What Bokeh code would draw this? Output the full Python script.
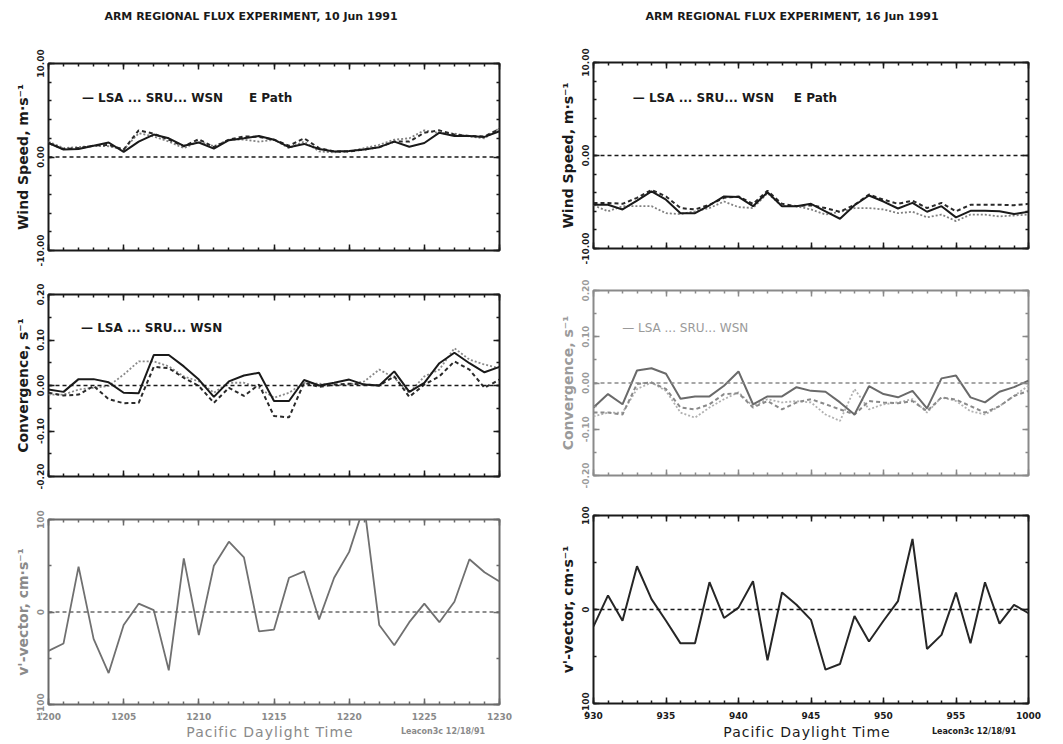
from bokeh.plotting import figure
from bokeh.models import (Range1d, FixedTicker, LinearAxis, Label, Span, NumeralTickFormatter, Div)
from bokeh.layouts import row, column
from bokeh.embed import file_html
from bokeh.resources import INLINE

# ---------------- data ----------------
left_times = ["1200", "1201", "1202", "1203", "1204", "1205", "1206", "1207", "1208", "1209",
              "1210", "1211", "1212", "1213", "1214", "1215", "1216", "1217", "1218", "1219",
              "1220", "1221", "1222", "1223", "1224", "1225", "1226", "1227", "1228", "1229", "1230"]
right_times = ["930", "931", "932", "933", "934", "935", "936", "937", "938", "939",
               "940", "941", "942", "943", "944", "945", "946", "947", "948", "949",
               "950", "951", "952", "953", "954", "955", "956", "957", "958", "959", "1000"]

# 10 Jun 1991 wind speed (m/s)
lsa_wind_10 = [1.5, 0.8, 0.85, 1.2, 1.55, 0.55, 1.65, 2.4, 2.0, 1.2, 1.55, 0.9, 1.8, 2.0, 2.25, 1.85,
               1.05, 1.4, 0.85, 0.6, 0.65, 0.8, 1.05, 1.65, 1.1, 1.5, 2.6, 2.25, 2.25, 2.15, 2.75]
sru_wind_10 = [1.5, 0.85, 0.95, 1.2, 1.3, 0.8, 2.85, 2.5, 1.85, 1.15, 1.9, 1.05, 1.85, 2.2, 2.15, 1.85,
               1.2, 2.0, 0.95, 0.6, 0.6, 0.8, 1.05, 1.65, 1.65, 2.6, 2.85, 2.4, 2.25, 2.2, 3.0]
wsn_wind_10 = [1.65, 0.95, 1.05, 1.2, 1.15, 0.8, 2.55, 2.2, 1.65, 0.95, 1.65, 1.15, 1.85, 1.85, 1.65, 1.85,
               0.95, 1.65, 0.6, 0.5, 0.6, 0.95, 1.3, 1.85, 2.0, 2.85, 2.55, 2.5, 2.2, 2.0, 3.1]

# 16 Jun 1991 wind speed (m/s)
lsa_wind_16 = [-5.3, -5.3, -5.8, -4.85, -3.85, -4.75, -6.2, -6.2, -5.35, -4.4, -4.45, -5.45, -3.95, -5.45,
               -5.45, -5.2, -6.0, -6.8, -5.35, -4.3, -4.95, -5.7, -5.1, -6.05, -5.45, -6.65, -5.95, -5.95,
               -6.0, -6.3, -6.05]
sru_wind_16 = [-5.1, -5.1, -5.2, -4.55, -3.7, -4.4, -5.65, -5.8, -5.3, -4.55, -4.4, -5.2, -3.8, -5.2,
               -5.45, -5.35, -5.65, -6.05, -5.3, -4.2, -4.75, -5.2, -4.85, -5.65, -5.1, -6.0, -5.3, -5.3,
               -5.3, -5.35, -5.2]
wsn_wind_16 = [-5.35, -6.0, -5.45, -5.45, -5.45, -6.2, -6.3, -6.0, -5.65, -4.95, -5.55, -5.65, -4.05, -5.45,
               -5.45, -5.8, -6.35, -6.05, -5.65, -5.65, -5.8, -6.2, -6.05, -6.65, -6.35, -7.05, -6.35, -6.35,
               -6.55, -6.45, -6.35]

# 10 Jun 1991 convergence (1/s)
lsa_conv_10 = [-0.009, -0.014, 0.014, 0.014, 0.007, -0.016, -0.017, 0.067, 0.067, 0.042, 0.013, -0.025,
               0.009, 0.022, 0.028, -0.034, -0.034, 0.012, 0.0, 0.006, 0.013, 0.002, 0.0, 0.031, -0.014,
               0.006, 0.049, 0.072, 0.049, 0.029, 0.041]
sru_conv_10 = [-0.016, -0.022, -0.02, -0.001, -0.03, -0.039, -0.038, 0.041, 0.038, 0.017, -0.001, -0.038,
               -0.005, -0.023, 0.002, -0.067, -0.07, 0.006, -0.003, 0.002, 0.004, 0.002, 0.0, 0.02, -0.025,
               0.002, 0.02, 0.053, 0.035, -0.005, 0.013]
wsn_conv_10 = [-0.02, -0.02, -0.009, -0.005, -0.001, 0.024, 0.053, 0.053, 0.042, 0.02, 0.009, -0.016,
               0.006, 0.006, -0.005, -0.027, -0.016, 0.006, 0.004, 0.0, 0.002, 0.009, 0.035, 0.017, -0.016,
               0.02, 0.035, 0.082, 0.057, 0.046, 0.038]

# 16 Jun 1991 convergence (1/s)
lsa_conv_16 = [-0.053, -0.024, -0.046, 0.027, 0.032, 0.02, -0.034, -0.029, -0.029, -0.006, 0.025, -0.046,
               -0.029, -0.029, -0.009, -0.017, -0.019, -0.042, -0.068, -0.007, -0.024, -0.031, -0.017,
               -0.055, 0.01, 0.016, -0.031, -0.042, -0.019, -0.009, 0.005]
sru_conv_16 = [-0.064, -0.064, -0.068, -0.002, 0.001, -0.013, -0.053, -0.057, -0.046, -0.024, -0.022,
               -0.053, -0.039, -0.057, -0.042, -0.035, -0.046, -0.057, -0.068, -0.039, -0.042, -0.044,
               -0.039, -0.061, -0.031, -0.036, -0.05, -0.064, -0.05, -0.028, -0.017]
wsn_conv_16 = [-0.072, -0.064, -0.064, -0.013, 0.001, -0.017, -0.064, -0.075, -0.053, -0.035, -0.02,
               -0.05, -0.035, -0.042, -0.039, -0.042, -0.068, -0.082, -0.013, -0.057, -0.046, -0.042,
               -0.035, -0.064, -0.031, -0.039, -0.061, -0.068, -0.05, -0.028, -0.006]

# v'-vector (cm/s)
vvec_10 = [-42, -34, 49, -29, -66, -14, 9, 2, -63, 58, -25, 50, 76, 59, -21, -19, 37, 44, -8, 37, 65,
           115, -14, -36, -11, 9, -11, 11, 57, 43, 33]
vvec_16 = [-18, 15, -12, 46, 11, -12, -36, -36, 29, -9, 2, 30, -54, 18, 5, -11, -64, -58, -7, -34, -12,
           9, 75, -42, -27, 18, -36, 29, -15, 5, -4]

titles = ["ARM REGIONAL FLUX EXPERIMENT, 10 Jun 1991", "ARM REGIONAL FLUX EXPERIMENT, 16 Jun 1991"]
legend_text = "\u2014 LSA ... SRU... WSN"
path_text = "E Path"
xlabel_text = "Pacific Daylight Time"
stamp_text = "Leacon3c 12/18/91"

FONT = "DejaVu Sans"


class Geo:
    def __init__(self, ox, oy, width, height, bl, br, bt, bb, yr, nx):
        self.ox, self.oy, self.width, self.height = ox, oy, width, height
        self.bl, self.br, self.bt, self.bb = bl, br, bt, bb
        self.yr = yr
        self.nx = nx
        self.fl = ox + bl
        self.ft = oy + bt
        self.fw = width - bl - br
        self.fh = height - bt - bb

    def dx(self, ix):
        return (ix - self.fl) / self.fw * (self.nx - 1)

    def dy(self, iy):
        y0, y1 = self.yr
        return y1 - (iy - self.ft) / self.fh * (y1 - y0)


def tick_style(ax, ink, long_minor=False):
    ax.axis_line_color = None
    ax.major_tick_in = 6
    ax.major_tick_out = 0
    ax.minor_tick_in = 6 if long_minor else 3
    ax.minor_tick_out = 0
    ax.major_tick_line_color = ink
    ax.minor_tick_line_color = ink
    ax.major_tick_line_width = 1.5
    ax.minor_tick_line_width = 1.5


def bare_axes(p, where, major, minor, ink):
    # label-free axes: short minor ticks and longer "major" ticks, both drawn as minor ticks
    a1 = LinearAxis(ticker=FixedTicker(ticks=[], minor_ticks=minor), major_label_standoff=0)
    tick_style(a1, ink)
    a2 = LinearAxis(ticker=FixedTicker(ticks=[], minor_ticks=major), major_label_standoff=0)
    tick_style(a2, ink, long_minor=True)
    p.add_layout(a1, where)
    p.add_layout(a2, where)


def panel(g, times, yticks, yminor, yfmt, ylabel, show_x, ink, txt):
    p = figure(width=g.width, height=g.height, x_range=Range1d(0, len(times) - 1),
               y_range=Range1d(*g.yr), output_backend="svg", toolbar_location=None,
               min_border_left=g.bl, min_border_right=g.br, min_border_top=g.bt,
               min_border_bottom=g.bb, x_axis_location=None, y_axis_location=None)
    p.xgrid.visible = False
    p.ygrid.visible = False
    p.background_fill_color = "white"
    p.border_fill_color = "white"
    p.outline_line_color = ink
    p.outline_line_width = 2
    p.outline_line_alpha = 1

    major_x = [i for i, t in enumerate(times) if int(t) % 5 == 0]
    minor_x = list(range(len(times)))

    if show_x:
        xa = LinearAxis(ticker=FixedTicker(ticks=major_x, minor_ticks=minor_x))
        tick_style(xa, ink)
        xa.major_label_overrides = {i: times[i] for i in major_x}
        xa.major_label_text_font = FONT
        xa.major_label_text_font_size = "9px"
        xa.major_label_text_font_style = "bold"
        xa.major_label_text_color = txt
        xa.major_label_standoff = 8
        p.add_layout(xa, "below")
    else:
        bare_axes(p, "below", major_x, minor_x, ink)
    bare_axes(p, "above", major_x, minor_x, ink)

    ya = LinearAxis(ticker=FixedTicker(ticks=yticks, minor_ticks=yminor))
    ya.formatter = NumeralTickFormatter(format=yfmt)
    tick_style(ya, ink)
    ya.major_label_orientation = "vertical"
    ya.major_label_text_font = FONT
    ya.major_label_text_font_size = "9px"
    ya.major_label_text_font_style = "bold"
    ya.major_label_text_color = txt
    ya.major_label_standoff = 5
    ya.axis_label = ylabel
    ya.axis_label_text_font = FONT
    ya.axis_label_text_font_size = "14px"
    ya.axis_label_text_font_style = "bold"
    ya.axis_label_text_color = txt
    ya.axis_label_standoff = 3
    p.add_layout(ya, "left")
    bare_axes(p, "right", yticks, yminor, ink)

    p.add_layout(Span(location=0, dimension="width", line_color=ink, line_width=1.6,
                      line_dash="4 3"))
    return p


def text(p, g, ix, iy, s, size, color, style="bold", align="left"):
    p.add_layout(Label(x=g.dx(ix), y=g.dy(iy), text=s, text_font=FONT,
                       text_font_size=size, text_font_style=style, text_color=color,
                       text_align=align, text_baseline="middle"))


def header(width, s, center_x, height):
    html = (
        f'<div style="position:relative;width:{width}px;height:{height}px;font-family:\'DejaVu Sans\';">'
        f'<span style="position:absolute;left:{center_x}px;top:10px;font-size:11px;font-weight:bold;'
        f'color:#1a1a1a;white-space:nowrap;line-height:13px;transform:translateX(-50%);">{s}</span>'
        '</div>'
    )
    return Div(text=html, width=width, height=height, margin=0)


def footer(width, pac_x, stamp_x, color):
    html = (
        f'<div style="position:relative;width:{width}px;height:20px;font-family:\'DejaVu Sans\';">'
        f'<span style="position:absolute;left:{pac_x}px;top:0px;font-size:14px;color:{color};'
        f'letter-spacing:1px;line-height:16px;white-space:nowrap;transform:translateX(-50%);">'
        f'{xlabel_text}</span>'
        f'<span style="position:absolute;left:{stamp_x}px;top:3px;font-size:8px;font-weight:bold;'
        f'color:{color};line-height:10px;white-space:nowrap;transform:translateX(-50%);">'
        f'{stamp_text}</span>'
        '</div>'
    )
    return Div(text=html, width=width, height=20, margin=0)


def three_lines(p, a, b, c, cols):
    xs = list(range(len(a)))
    p.line(xs, c, line_color=cols[2], line_width=1.8, line_dash="2 2")
    p.line(xs, b, line_color=cols[1], line_width=2, line_dash="4 3")
    p.line(xs, a, line_color=cols[0], line_width=2)


BLACK = "#1a1a1a"

wind_ticks = [-10, 0, 10]
wind_minor = [-10, -8, -6, -4, -2, 0, 2, 4, 6, 8, 10]
conv_ticks = [-0.2, -0.1, 0, 0.1, 0.2]
conv_minor = [-0.2, -0.15, -0.1, -0.05, 0, 0.05, 0.1, 0.15, 0.2]
v_ticks = [-100, 0, 100]
v_minor = [-100, -50, 0, 50, 100]

n = len(left_times)
LW, RW = 528, 535
HD = 32  # header height

# ---- left column ----
h1 = header(LW, titles[0], 251, HD)
g1 = Geo(0, HD, LW, 270 - HD, 48, 21, 63 - HD, 20, (-10, 10), n)
p1 = panel(g1, left_times, wind_ticks, wind_minor, "0.00", "Wind Speed, m\u00b7s\u207b\u00b9",
           False, BLACK, BLACK)
three_lines(p1, lsa_wind_10, sru_wind_10, wsn_wind_10, [BLACK, "#2a2a2a", "#808080"])
text(p1, g1, 82, 97, legend_text, "12px", BLACK)
text(p1, g1, 252, 97, path_text, "12px", BLACK)

g2 = Geo(0, 270, LW, 222, 47, 23, 24, 16, (-0.2, 0.2), n)
p2 = panel(g2, left_times, conv_ticks, conv_minor, "0.00", "Convergence, s\u207b\u00b9",
           False, BLACK, BLACK)
three_lines(p2, lsa_conv_10, sru_conv_10, wsn_conv_10, [BLACK, "#2a2a2a", "#8a8a8a"])
text(p2, g2, 80, 327, legend_text, "12px", BLACK)

g3 = Geo(0, 492, LW, 232, 42, 29, 27, 20, (-100, 100), n)
p3 = panel(g3, left_times, v_ticks, v_minor, "0", "v'-vector, cm\u00b7s\u207b\u00b9",
           True, "#6a6a6a", "#8a8a8a")
p3.line(list(range(n)), vvec_10, line_color="#707070", line_width=1.8)
f3 = footer(LW, 270, 443, "#8a8a8a")

# ---- right column ----
h4 = header(RW, titles[1], 792 - 528, HD)
g4 = Geo(528, HD, RW, 270 - HD, 65, 27, 62 - HD, 22, (-10, 10), n)
p4 = panel(g4, right_times, wind_ticks, wind_minor, "0.00", "Wind Speed, m\u00b7s\u207b\u00b9",
           False, BLACK, BLACK)
three_lines(p4, lsa_wind_16, sru_wind_16, wsn_wind_16, [BLACK, "#2a2a2a", "#808080"])
text(p4, g4, 633, 97, legend_text, "12px", BLACK)
text(p4, g4, 797, 97, path_text, "12px", BLACK)

g5 = Geo(528, 270, RW, 222, 63, 32, 20, 17, (-0.2, 0.2), n)
p5 = panel(g5, right_times, conv_ticks, conv_minor, "0.00", "Convergence, s\u207b\u00b9",
           False, "#8a8a8a", "#9a9a9a")
three_lines(p5, lsa_conv_16, sru_conv_16, wsn_conv_16, ["#6a6a6a", "#8a8a8a", "#b0b0b0"])
text(p5, g5, 620, 327, legend_text, "12px", "#9a9a9a", style="normal")

g6 = Geo(528, 492, RW, 232, 60, 35, 23, 21, (-100, 100), n)
p6 = panel(g6, right_times, v_ticks, v_minor, "0", "v'-vector, cm\u00b7s\u207b\u00b9",
           True, BLACK, BLACK)
p6.line(list(range(n)), vvec_16, line_color="#262626", line_width=2)
f6 = footer(RW, 807 - 528, 974 - 528, BLACK)

layout = row(column(h1, p1, p2, p3, f3), column(h4, p4, p5, p6, f6))

with open("out.html", "w") as f:
    f.write(file_html(layout, INLINE))
